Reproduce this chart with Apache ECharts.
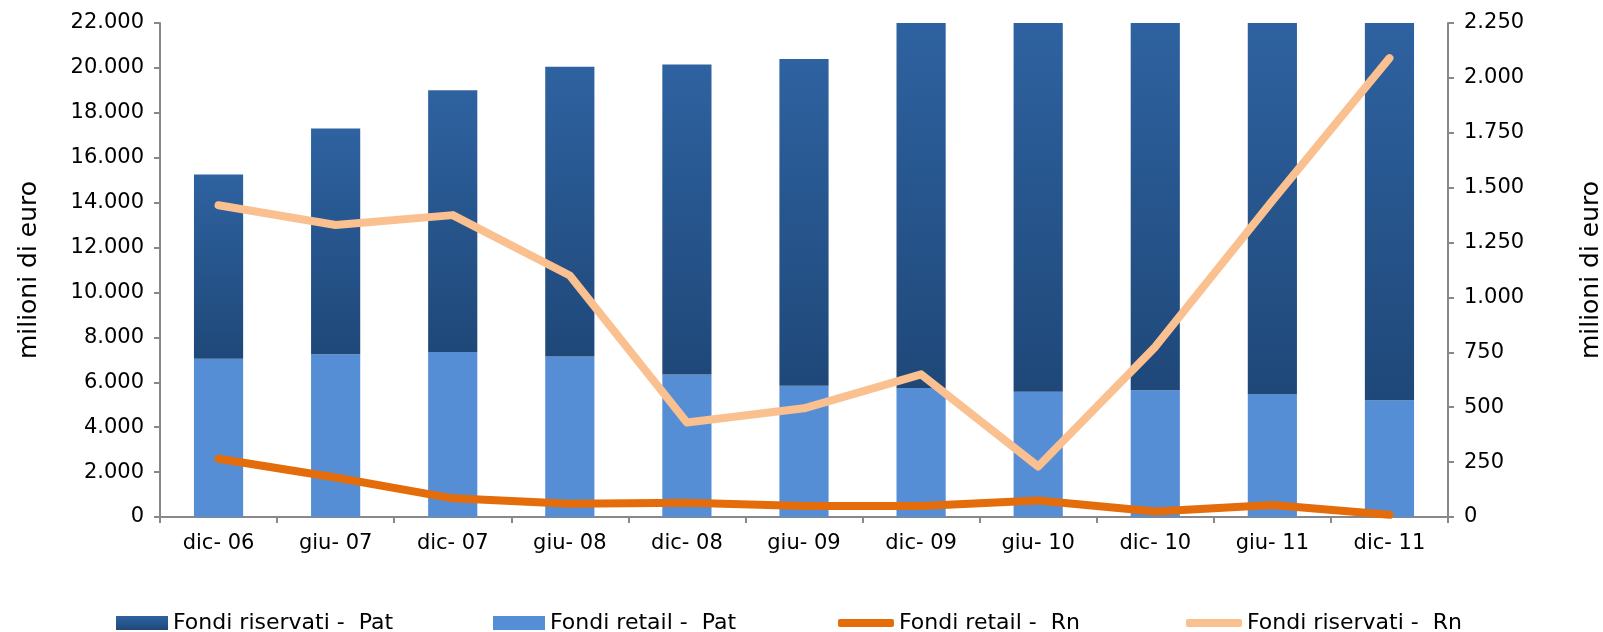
<!DOCTYPE html>
<html>
<head>
<meta charset="utf-8">
<script src="https://cdn.jsdelivr.net/npm/echarts@6/dist/echarts.min.js"></script>
<style>
  html, body { margin: 0; padding: 0; background: #fff; }
  #main { width: 1603px; height: 632px; }
</style>
</head>
<body>
<div id="main"></div>
<script>
// dati
var periodi = ["dic- 06", "giu- 07", "dic- 07", "giu- 08", "dic- 08", "giu- 09", "dic- 09", "giu- 10", "dic- 10", "giu- 11", "dic- 11"];
var retailPat = [7050, 7250, 7350, 7150, 6350, 5850, 5750, 5580, 5650, 5480, 5200];
var riservatiPat = [8200, 10050, 11650, 12900, 13800, 14550, 17750, 18420, 19350, 20020, 20800];
var retailRn = [265, 180, 85, 60, 65, 50, 50, 75, 25, 55, 10];
var riservatiRn = [1420, 1330, 1375, 1100, 430, 495, 650, 230, 775, 1440, 2090];

var font = "DejaVu Sans";
var axisGray = "#888888";

function fmt(v) {
  return String(v).replace(/\B(?=(\d{3})+(?!\d))/g, ".");
}

var myChart = echarts.init(document.getElementById("main"));

var legendBase = {
  top: 607,
  itemGap: 4,
  textStyle: { fontFamily: font, fontSize: 22, color: "#000" },
};

var option = {
  animation: false,
  textStyle: { fontFamily: font },
  grid: { left: 160, right: 155, top: 23, bottom: 115, outerBoundsMode: "none", containLabel: false },
  legend: [
    Object.assign({}, legendBase, { left: 111, itemWidth: 52, itemHeight: 14, data: [{ name: "Fondi riservati -  Pat", icon: "rect" }] }),
    Object.assign({}, legendBase, { left: 488, itemWidth: 52, itemHeight: 14, data: [{ name: "Fondi retail -  Pat", icon: "rect" }] }),
    Object.assign({}, legendBase, { left: 833, itemWidth: 56, itemHeight: 8, data: [{ name: "Fondi retail -  Rn", icon: "roundRect" }] }),
    Object.assign({}, legendBase, { left: 1181, itemWidth: 56, itemHeight: 8, data: [{ name: "Fondi riservati -  Rn", icon: "roundRect" }] }),
  ],
  xAxis: {
    type: "category",
    data: periodi,
    boundaryGap: true,
    axisLine: { lineStyle: { color: axisGray, width: 2 } },
    axisTick: { show: true, length: 6, lineStyle: { color: axisGray, width: 2 } },
    axisLabel: { color: "#000", fontSize: 21, margin: 16 },
  },
  yAxis: [
    {
      type: "value",
      min: 0,
      max: 22000,
      interval: 2000,
      name: "milioni di euro",
      nameLocation: "middle",
      nameRotate: 90,
      nameGap: 118,
      nameTextStyle: { fontSize: 25, color: "#000" },
      axisLine: { show: true, lineStyle: { color: axisGray, width: 2 } },
      axisTick: { show: true, length: 6, lineStyle: { color: axisGray, width: 2 } },
      splitLine: { show: false },
      axisLabel: { color: "#000", fontSize: 21, margin: 16, formatter: fmt },
    },
    {
      type: "value",
      min: 0,
      max: 2250,
      interval: 250,
      position: "right",
      name: "milioni di euro",
      nameLocation: "middle",
      nameRotate: 90,
      nameGap: 131,
      nameTextStyle: { fontSize: 25, color: "#000" },
      axisLine: { show: true, lineStyle: { color: axisGray, width: 2 } },
      axisTick: { show: true, length: 6, lineStyle: { color: axisGray, width: 2 } },
      splitLine: { show: false },
      axisLabel: { color: "#000", fontSize: 21, margin: 16, formatter: fmt },
    },
  ],
  series: [
    {
      name: "Fondi retail -  Pat",
      type: "bar",
      stack: "pat",
      barWidth: "42%",
      clip: true,
      itemStyle: { color: "#558ed5" },
      data: retailPat,
      z: 2,
    },
    {
      name: "Fondi riservati -  Pat",
      type: "bar",
      stack: "pat",
      barWidth: "42%",
      clip: true,
      itemStyle: {
        color: new echarts.graphic.LinearGradient(0, 0, 0, 1, [
          { offset: 0, color: "#2e62a0" },
          { offset: 1, color: "#1f4879" },
        ]),
      },
      data: riservatiPat,
      z: 2,
    },
    {
      name: "Fondi retail -  Rn",
      type: "line",
      yAxisIndex: 1,
      symbol: "none",
      itemStyle: { color: "#e46c0a" },
      lineStyle: { color: "#e46c0a", width: 8, cap: "round", join: "round" },
      data: retailRn,
      z: 5,
    },
    {
      name: "Fondi riservati -  Rn",
      type: "line",
      yAxisIndex: 1,
      symbol: "none",
      itemStyle: { color: "#fac090" },
      lineStyle: { color: "#fac090", width: 8, cap: "round", join: "round" },
      data: riservatiRn,
      z: 5,
    },
  ],
};

myChart.setOption(option);
</script>
</body>
</html>
